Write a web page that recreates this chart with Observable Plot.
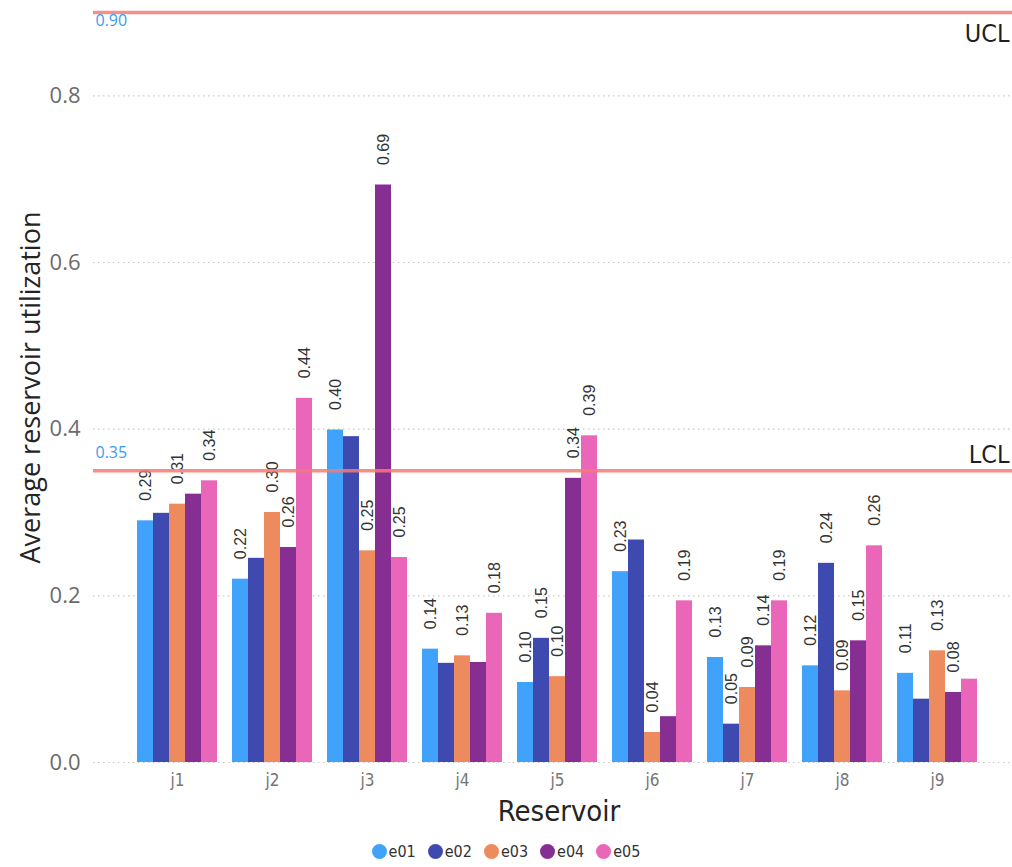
<!DOCTYPE html>
<html>
<head>
<meta charset="utf-8">
<script src="https://cdn.jsdelivr.net/npm/d3@7"></script>
<script src="https://cdn.jsdelivr.net/npm/@observablehq/plot@0.6"></script>
<style>
  body { margin: 0; background: #fff; }
  #wrap { position: relative; width: 1012px; height: 835px; }
  #wrap svg { position: absolute; left: 0; top: 0; }
  #legend {
    display: flex; justify-content: center; align-items: center; gap: 12px;
    height: 32px; font-family: "DejaVu Sans Condensed", "DejaVu Sans", sans-serif;
    font-size: 16px; color: #333;
  }
  #legend .item { display: flex; align-items: center; gap: 2px; }
  #legend .dot { width: 15px; height: 15px; border-radius: 50%; display: inline-block; }
</style>
</head>
<body>
<div id="wrap"></div>
<div id="legend"></div>
<script>
// ---- data ----
const reservoirs = ["j1", "j2", "j3", "j4", "j5", "j6", "j7", "j8", "j9"];
const seriesNames = ["e01", "e02", "e03", "e04", "e05"];
const seriesColors = ["#41a2fc", "#3e4aaf", "#ed8b5e", "#862e91", "#ea66b8"];

const e01 = [0.290, 0.220, 0.399, 0.136, 0.096, 0.229, 0.126, 0.116, 0.107];
const e02 = [0.299, 0.245, 0.391, 0.119, 0.149, 0.267, 0.046, 0.239, 0.076];
const e03 = [0.310, 0.300, 0.254, 0.128, 0.103, 0.036, 0.090, 0.086, 0.134];
const e04 = [0.322, 0.258, 0.693, 0.120, 0.341, 0.055, 0.140, 0.146, 0.084];
const e05 = [0.338, 0.437, 0.246, 0.179, 0.392, 0.194, 0.194, 0.260, 0.100];

// reservoirs whose bar carries a visible data label, per series
const labeledE01 = ["j1", "j2", "j3", "j4", "j5", "j6", "j7", "j8", "j9"];
const labeledE02 = ["j5", "j7", "j8"];
const labeledE03 = ["j1", "j2", "j3", "j4", "j5", "j6", "j7", "j8", "j9"];
const labeledE04 = ["j2", "j3", "j5", "j7", "j8", "j9"];
const labeledE05 = ["j1", "j2", "j3", "j4", "j5", "j6", "j7", "j8"];

const yTicks = [0, 0.2, 0.4, 0.6, 0.8];
const yTickLabels = ["0.0", "0.2", "0.4", "0.6", "0.8"];
const limitNames = ["UCL", "LCL"];
const limitValues = [0.90, 0.35];

const yTitle = "Average reservoir utilization";
const xTitle = "Reservoir";

// ---- table built from the arrays ----
const seriesValues = [e01, e02, e03, e04, e05];
const seriesLabeled = [labeledE01, labeledE02, labeledE03, labeledE04, labeledE05];
const rows = [];
reservoirs.forEach((r, i) => {
  seriesNames.forEach((s, k) => {
    rows.push({reservoir: r, series: s, value: seriesValues[k][i], labeled: seriesLabeled[k].includes(r)});
  });
});
const fmt2 = d3.format(".2f");

// ---- layout ----
const W = 1012, H = 835, MT = 12, MB = 73;
const yScale = {domain: [0, 0.9], axis: null};

// back layer: grid
const back = Plot.plot({
  width: W, height: H, marginTop: MT, marginBottom: MB, marginLeft: 93, marginRight: 0,
  y: yScale,
  style: {background: "transparent"},
  marks: [
    Plot.ruleY(yTicks, {stroke: "#c8c8c8", strokeWidth: 1.2, strokeDasharray: "1.5,3.5"})
  ]
});

// middle layer: grouped bars (faceted by reservoir), data labels, reservoir tick labels
const bars = Plot.plot({
  width: W, height: H, marginTop: MT, marginBottom: MB, marginLeft: 131, marginRight: 30,
  y: yScale,
  x: {domain: seriesNames, padding: 0, axis: null},
  fx: {domain: reservoirs, paddingInner: 0.116, paddingOuter: 0, axis: null},
  color: {domain: seriesNames, range: seriesColors},
  facet: {data: rows, x: "reservoir"},
  style: {background: "transparent"},
  marks: [
    Plot.barY(rows, {x: "series", y: "value", fill: "series"}),
    Plot.text(rows, {
      filter: d => d.labeled, x: "series", y: "value", text: d => fmt2(d.value),
      rotate: -90, textAnchor: "start", lineAnchor: "middle", dy: -20,
      fontSize: 16, fill: "#333", fontFamily: "Liberation Sans, Arial, sans-serif"
    }),
    Plot.text(rows, {
      filter: d => d.series === seriesNames[0], text: "reservoir",
      frameAnchor: "bottom", textAnchor: "middle", lineAnchor: "top", dy: 11,
      fontSize: 17, fill: "#767676", fontFamily: "DejaVu Sans Condensed, DejaVu Sans, sans-serif"
    })
  ]
});

// top layer: control limits, y tick labels, titles
const front = Plot.plot({
  width: W, height: H, marginTop: MT, marginBottom: MB, marginLeft: 93, marginRight: 0,
  y: yScale,
  style: {background: "transparent", fontFamily: "Open Sans, sans-serif"},
  marks: [
    Plot.ruleY(limitValues, {stroke: "#f47a76", strokeWidth: 3.5, strokeOpacity: 0.85}),
    Plot.text([limitValues[0]], {y: d => d, text: d => fmt2(d), frameAnchor: "left", textAnchor: "start", lineAnchor: "top", dx: 2, dy: 2, fontSize: 16, fill: "#3a9bf2"}),
    Plot.text([limitValues[1]], {y: d => d, text: d => fmt2(d), frameAnchor: "left", textAnchor: "start", lineAnchor: "bottom", dx: 2, dy: -13, fontSize: 16, fill: "#3a9bf2"}),
    Plot.text([limitNames[0]], {y: () => limitValues[0], text: d => d, frameAnchor: "right", textAnchor: "end", lineAnchor: "top", dx: -3, dy: 12, fontSize: 25, fill: "#1f1f1f", fontFamily: "DejaVu Sans Condensed, DejaVu Sans, sans-serif"}),
    Plot.text([limitNames[1]], {y: () => limitValues[1], text: d => d, frameAnchor: "right", textAnchor: "end", lineAnchor: "bottom", dx: -3, dy: -8, fontSize: 25, fill: "#1f1f1f", fontFamily: "DejaVu Sans Condensed, DejaVu Sans, sans-serif"}),
    Plot.text(yTicks, {y: d => d, text: (d, i) => yTickLabels[i], frameAnchor: "left", textAnchor: "end", lineAnchor: "middle", dx: -13, fontSize: 22, fill: "#6b6b6b"}),
    Plot.text([yTitle], {text: d => d, frameAnchor: "left", rotate: -90, textAnchor: "middle", lineAnchor: "middle", dx: -62, fontSize: 27, fill: "#252423"}),
    Plot.text([xTitle], {text: d => d, frameAnchor: "bottom", textAnchor: "middle", lineAnchor: "middle", dx: 6, dy: 49, fontSize: 29, fill: "#252423", fontFamily: "DejaVu Sans Condensed, DejaVu Sans, sans-serif"})
  ]
});

const wrap = document.getElementById("wrap");
wrap.appendChild(back);
wrap.appendChild(bars);
wrap.appendChild(front);

// legend
const legend = d3.select("#legend");
seriesNames.forEach((s, k) => {
  const item = legend.append("div").attr("class", "item");
  item.append("span").attr("class", "dot").style("background", seriesColors[k]);
  item.append("span").text(s);
});
</script>
</body>
</html>
